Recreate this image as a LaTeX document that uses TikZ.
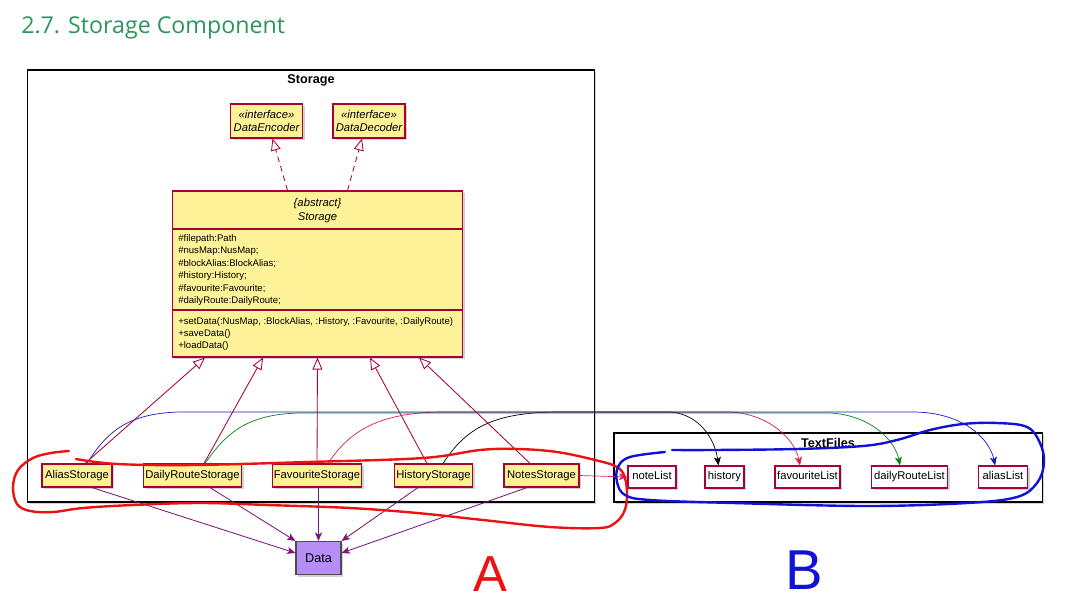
\documentclass[tikz,border=0pt]{standalone}
\usepackage{fontspec}
\setmainfont{Liberation Sans}
\newfontfamily\titlefont{Open Sans}
\usetikzlibrary{arrows.meta, shadows, calc}

\definecolor{umlfill}{RGB}{254,242,152}
\definecolor{umlborder}{RGB}{168,0,54}
\definecolor{datafill}{RGB}{183,142,246}
\definecolor{linkpurple}{RGB}{125,20,125}
\definecolor{titlegreen}{RGB}{42,150,92}
\definecolor{handred}{RGB}{236,18,18}
\definecolor{handblue}{RGB}{18,18,214}
\definecolor{curvered}{RGB}{222,30,72}
\definecolor{curvegreen}{RGB}{10,130,20}
\definecolor{curveblue}{RGB}{25,25,190}
\definecolor{notepink}{RGB}{212,40,130}

\begin{document}
\begin{tikzpicture}[
		x=0.025cm, y=-0.025cm,
		shade/.style={drop shadow={shadow xshift=1.6pt, shadow yshift=-1.6pt, opacity=0.35}},
		cls/.style={draw=umlborder, line width=0.8pt, fill=umlfill, shade, minimum height=0.575cm, inner sep=1pt, text height=6pt, text depth=1.8pt, font=\fontsize{8}{9}\selectfont},
		iface/.style={cls, align=center, minimum height=0.85cm, text height=, text depth=, font=\fontsize{8}{9.5}\selectfont\itshape},
		file/.style={draw=umlborder, line width=0.8pt, fill=white, shade, minimum height=0.55cm, inner sep=1pt, text height=6pt, text depth=1.8pt, font=\fontsize{8}{9}\selectfont},
		pkg/.style={draw=black, line width=0.8pt, fill=white, shade},
		pkglabel/.style={inner sep=0pt, font=\fontsize{9}{10}\selectfont\bfseries},
		member/.style={anchor=west, inner sep=0pt, align=left, font=\fontsize{6.8}{8.8}\selectfont},
		extends/.style={umlborder, line width=0.6pt, -{Triangle[open, length=8.5pt, width=7pt]}},
		realizes/.style={extends, dash pattern=on 4pt off 3pt},
		uses/.style={linkpurple, line width=0.6pt, -{Stealth[length=6pt, width=5pt, inset=1.5pt]}},
		saves/.style={line width=0.5pt, -{Stealth[length=6pt, width=5pt, inset=1.5pt]}},
		hand/.style={line width=1.7pt, line cap=round, line join=round}
		]
		\useasboundingbox (0,0) rectangle (1069,603);
		
		% 1. Heading
		\node[anchor=west, inner sep=0pt, text=titlegreen, font=\titlefont\fontsize{16.5}{18}\selectfont] (title) at (21,28) {2.7. Storage Component};
		
		% 2. Packages
		\node[pkg, minimum width=14.15cm, minimum height=10.8cm] (storagePkg) at (311,286) {};
		\node[pkglabel] (storageLbl) at (311,80) {Storage};
		\node[pkg, minimum width=10.7cm, minimum height=1.725cm] (textPkg) at (828,467.5) {};
		\node[pkglabel] (textLbl) at (828,443) {TextFiles};
		
		% 3. Interfaces
		\node[iface, minimum width=1.8cm] (encoder) at (266.5,121) {«interface»\\DataEncoder};
		\node[iface, minimum width=1.8cm] (decoder) at (369,121) {«interface»\\DataDecoder};
		
		% 4. Abstract class
		\node[cls, minimum width=7.25cm, minimum height=4.15cm] (storage) at (317.5,274) {};
		\draw[umlborder, line width=0.8pt] (storage.west |- 0,229) -- (storage.east |- 0,229);
		\draw[umlborder, line width=0.8pt] (storage.west |- 0,310) -- (storage.east |- 0,310);
		\node[align=center, inner sep=0pt, font=\fontsize{8}{10}\selectfont\itshape] (storageHead) at (317.5,211) {\{abstract\}\\Storage};
		\node[member] (storageAttr) at (178,270) {\#filepath:Path\\\#nusMap:NusMap;\\\#blockAlias:BlockAlias;\\\#history:History;\\\#favourite:Favourite;\\\#dailyRoute:DailyRoute;};
		\node[member] (storageOps) at (178,334) {+setData(:NusMap, :BlockAlias, :History, :Favourite, :DailyRoute)\\+saveData()\\+loadData()};
		
		\draw[realizes] ($(storage.north)+(-30,0)$) -- ($(encoder.south)+(6,0)$);
		\draw[realizes] ($(storage.north)+(30,0)$) -- ($(decoder.south)+(-7,0)$);
		
		% 5. Concrete storages
		\node[cls, minimum width=1.75cm] (alias) at (77,475.5) {AliasStorage};
		\node[cls, minimum width=2.45cm] (daily) at (192.5,475.5) {DailyRouteStorage};
		\node[cls, minimum width=2.2cm] (favourite) at (317,475.5) {FavouriteStorage};
		\node[cls, minimum width=1.95cm] (history) at (433.5,475.5) {HistoryStorage};
		\node[cls, minimum width=1.875cm] (notes) at (541.5,475.5) {NotesStorage};
		
		\draw[extends] ($(alias.north)+(8,0)$) -- ($(storage.south)+(-112.5,0)$);
		\draw[extends] ($(daily.north)+(11.5,0)$) -- ($(storage.south)+(-54.5,0)$);
		\draw[extends] (favourite.north) -- (storage.south);
		\draw[extends] ($(history.north)+(-6.5,0)$) -- ($(storage.south)+(52.5,0)$);
		\draw[extends] ($(notes.north)+(-11.5,0)$) -- ($(storage.south)+(101.5,0)$);
		
		% 6. Data
		\node[draw=black!70, line width=0.8pt, fill=datafill, shade, minimum width=1.125cm, minimum height=0.825cm, font=\fontsize{9}{10}\selectfont] (data) at (318.5,558) {Data};
		
		\draw[uses] ($(alias.south)+(15,0)$) -- ($(data.west)+(0,-5)$);
		\draw[uses] ($(daily.south)+(17.5,0)$) -- (data.north west);
		\draw[uses] (favourite.south -| data.north) -- (data.north);
		\draw[uses] ($(history.south)+(-15.5,0)$) -- (data.north east);
		\draw[uses] ($(notes.south)+(-14.5,0)$) -- ($(data.east)+(0,-5)$);
		
		% 7. Text files
		\node[file, minimum width=1.2cm] (noteList) at (652,477) {noteList};
		\node[file, minimum width=0.975cm] (historyList) at (724.5,477) {history};
		\node[file, minimum width=1.625cm] (favouriteList) at (807.5,477) {favouriteList};
		\node[file, minimum width=1.9cm] (dailyList) at (909.5,477) {dailyRouteList};
		\node[file, minimum width=1.225cm] (aliasList) at (1003,477) {aliasList};
		
		% Arrows into the files
		\draw[saves, notepink] (notes.east) -- (noteList.west);
		\draw[saves, black] ($(history.north)+(9.5,0)$) .. controls (465,430) and (490,412) .. (560,412) -- (670,412) .. controls (700,414) and (715,440) .. ($(historyList.north)+(-6,0)$);
		\draw[saves, curvered] ($(favourite.north)+(11,0)$) .. controls (350,430) and (380,413) .. (440,412) -- (730,412) .. controls (770,414) and (795,440) .. ($(favouriteList.north)+(-7.5,0)$);
		\draw[saves, curvegreen] ($(daily.north)+(12.5,0)$) .. controls (225,435) and (245,414) .. (300,413) -- (830,413) .. controls (870,415) and (895,440) .. ($(dailyList.north)+(-9.5,0)$);
		\draw[saves, curveblue] ($(alias.north)+(10,0)$) .. controls (105,435) and (125,413) .. (180,412) -- (915,412) .. controls (965,413) and (990,440) .. ($(aliasList.north)+(-8,0)$);
		
		% 8. Hand-drawn marks
		\draw[hand, handred] plot[smooth, tension=0.6] coordinates {(76,459) (117,464) (193,465) (308,462) (423,458) (480,450) (518,449) (557,452) (595,460) (617,467) (625,478) (627,497) (624,512) (615,523) (600,528) (550,527) (483,520) (417,513) (350,508) (267,505) (200,503) (133,505) (83,508) (53,512) (30,511) (17,504) (13,487) (18,470) (33,458) (51,453) (69,451)};
		\draw[hand, handblue] plot[smooth, tension=0.6] coordinates {(672,450) (713,450) (797,449) (863,446) (897,440) (930,430) (963,424) (997,423) (1027,427) (1040,443) (1044,463) (1037,483) (1017,497) (967,503) (867,506) (733,503) (650,500) (625,495) (617,482) (618,467) (630,457) (665,452)};
		\node[text=handred, inner sep=0pt, font=\fontsize{36}{36}\selectfont] (markA) at (490,574) {A};
		\node[text=handblue, inner sep=0pt, font=\fontsize{40}{40}\selectfont] (markB) at (804,570) {B};
		
	\end{tikzpicture}
\end{document}
